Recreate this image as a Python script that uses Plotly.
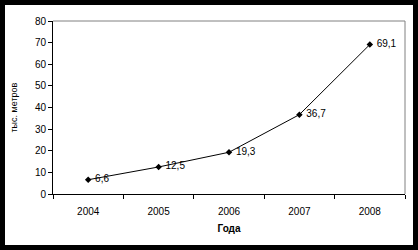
import plotly.graph_objects as go

years = ["2004", "2005", "2006", "2007", "2008"]
values = [6.6, 12.5, 19.3, 36.7, 69.1]
labels = ["6,6", "12,5", "19,3", "36,7", "69,1"]
y_ticks = [0, 10, 20, 30, 40, 50, 60, 70, 80]

FONT = "Liberation Sans, Arial, sans-serif"

fig = go.Figure()
fig.add_trace(go.Scatter(
    x=years, y=values, mode="lines+markers+text",
    line=dict(color="black", width=1),
    marker=dict(symbol="diamond", size=5, color="black"),
    text=labels, texttemplate="\u00a0%{text}", textposition="middle right",
    textfont=dict(family=FONT, size=10, color="black"),
    cliponaxis=False, showlegend=False,
))

fig.update_layout(
    width=418, height=250,
    margin=dict(l=53, r=13, t=21, b=56),
    paper_bgcolor="black", plot_bgcolor="white",
    font=dict(family=FONT, size=10, color="black"),
    xaxis=dict(
        type="category", range=[-0.5, 4.5], tickson="boundaries",
        ticks="outside", ticklen=4, tickcolor="black",
        ticklabelstandoff=8,
        showline=True, linecolor="black", linewidth=1,
        showgrid=False, zeroline=False,
        title=dict(text="<b>Года</b>", font=dict(size=10), standoff=8),
    ),
    yaxis=dict(
        range=[0, 80], tickvals=y_ticks, ticks="outside", ticklen=4,
        tickcolor="black", showline=True, linecolor="black", linewidth=1,
        showgrid=False, zeroline=False,
    ),
    shapes=[
        dict(type="rect", xref="paper", yref="paper",
             x0=-48/352, x1=1 + 8/352, y0=-51/173, y1=1 + 16/173,
             fillcolor="white", line=dict(width=0), layer="below"),
        dict(type="line", xref="x domain", yref="y domain", x0=0, x1=1, y0=1, y1=1,
             line=dict(color="#808080", width=1)),
        dict(type="line", xref="x domain", yref="y domain", x0=1, x1=1, y0=0, y1=1,
             line=dict(color="#808080", width=1)),
    ],
    annotations=[
        dict(text="тыс. метров", xref="paper", yref="paper", x=-40/352, y=0.5,
             textangle=-90, showarrow=False, font=dict(size=9, color="black"),
             xanchor="center", yanchor="middle"),
    ],
)

fig.write_html("out.html")
